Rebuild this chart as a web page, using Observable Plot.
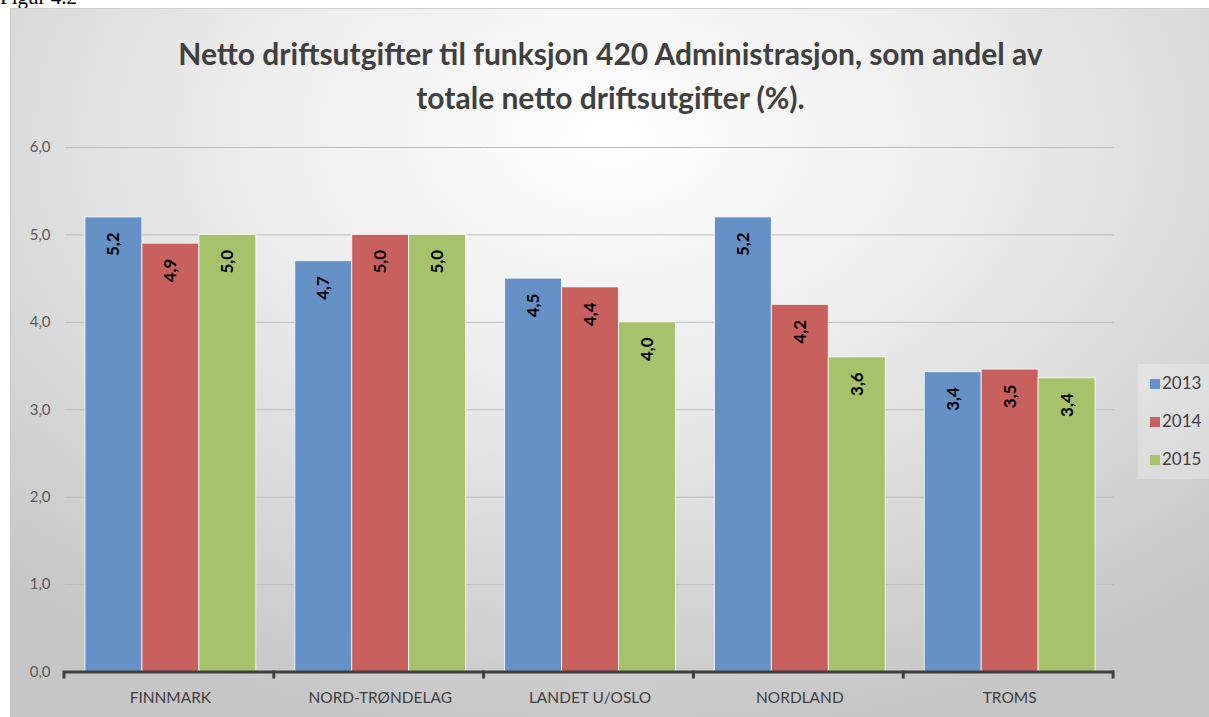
<!DOCTYPE html>
<html>
<head>
<meta charset="utf-8">
<script src="https://cdn.jsdelivr.net/npm/d3@7"></script>
<script src="https://cdn.jsdelivr.net/npm/@observablehq/plot@0.6"></script>
<style>
  html, body { margin: 0; padding: 0; background: #ffffff; width: 1209px; height: 717px; overflow: hidden; position: relative; }
  #fig { position: absolute; left: 0; top: -15px; font-family: "Liberation Serif", serif; font-size: 21px; color: #000; }
  #box { position: absolute; left: 10px; top: 8px; width: 1199px; height: 709px;
         background: radial-gradient(ellipse 75% 85% at 50% 18%, #ffffff 0%, #ededed 40%, #d6d6d6 75%, #c6c6c6 100%);
         border-top: 1px solid #d0d0d0; border-left: 1px solid #c8c8c8; box-sizing: border-box; }
  #title { position: absolute; left: 0; top: 22px; width: 1199px; text-align: center; font-family: Lato, sans-serif; font-weight: bold; font-size: 30px; line-height: 44px; color: #404040; }
  #chart { position: absolute; left: 0; top: 122px; }
  #legend { position: absolute; left: 1127px; top: 355px; width: 72px; height: 115px; background: rgba(255,255,255,0.25); font-family: Lato, sans-serif; font-size: 17px; color: #404040; }
  #legend .item { position: absolute; left: 12px; height: 20px; line-height: 20px; }
  #legend .sw { display: inline-block; width: 10px; height: 10px; margin-right: 2px; vertical-align: 0px; }
</style>
</head>
<body>
<div id="fig">Figur 4.2</div>
<div id="box">
  <div id="title">Netto driftsutgifter til funksjon 420 Administrasjon, som andel av<br>totale netto driftsutgifter (%).</div>
  <div id="chart"></div>
  <div id="legend"></div>
</div>
<script>
const categories = ["FINNMARK", "NORD-TRØNDELAG", "LANDET U/OSLO", "NORDLAND", "TROMS"];
const years = ["2013", "2014", "2015"];
const values2013 = [5.2, 4.7, 4.5, 5.2, 3.43];
const values2014 = [4.9, 5.0, 4.4, 4.2, 3.46];
const values2015 = [5.0, 5.0, 4.0, 3.6, 3.36];
const yTicks = [0, 1, 2, 3, 4, 5, 6];
const colors = ["#6591c6", "#c8605e", "#a6c26b"];

const seriesByYear = [values2013, values2014, values2015];
const data = [];
categories.forEach((c, i) => years.forEach((y, j) => data.push({cat: c, year: y, value: seriesByYear[j][i]})));
const fmt = d => d.toFixed(1).replace(".", ",");

const chart = Plot.plot({
  width: 1199,
  height: 587,
  marginTop: 16,
  marginBottom: 46,
  marginLeft: 53,
  marginRight: 94,
  style: {background: "transparent", fontFamily: "Lato, sans-serif", overflow: "visible"},
  fx: {domain: categories, padding: 0, label: null},
  x: {domain: years, paddingInner: 0, paddingOuter: 0.33, axis: null},
  y: {domain: [0, 6], label: null, axis: null},
  color: {domain: years, range: colors},
  marks: [
    Plot.ruleY(yTicks.filter(d => d > 0), {stroke: "#bdbdbd", strokeWidth: 1}),
    Plot.barY(data, {fx: "cat", x: "year", y: "value", fill: "year", stroke: "#ffffff", strokeOpacity: 0.8, strokeWidth: 1}),
    Plot.text(data, {fx: "cat", x: "year", y: "value", text: d => fmt(d.value), rotate: -90, textAnchor: "end", dy: 15, fontWeight: "bold", fontSize: 17, fill: "#000000"}),
    Plot.ruleY([0], {stroke: "#404040", strokeWidth: 3}),
    Plot.axisFx({anchor: "bottom", tickSize: 0, tickPadding: 20, fontSize: 15.5, color: "#404040", label: null}),
    Plot.axisY(yTicks, {anchor: "left", tickSize: 0, tickPadding: 15, fontSize: 15, color: "#595959", tickFormat: fmt, label: null, facetAnchor: "left"})
  ]
});
document.getElementById("chart").appendChild(chart);

// tick marks at category boundaries, derived from the fx and y scales
const fxs = chart.scale("fx");
const ys = chart.scale("y");
const y0 = ys.apply ? ys.apply(0) : 541;
const start = fxs.range[0];
const step = fxs.step;
const svg = d3.select(chart);
const g = svg.append("g").attr("stroke", "#404040").attr("stroke-width", 3);
for (let i = 0; i <= categories.length; i++) {
  const xb = start + i * step;
  g.append("line").attr("x1", xb).attr("x2", xb).attr("y1", y0 - 1).attr("y2", y0 + 7);
}

// legend
const legend = d3.select("#legend");
years.forEach((y, i) => {
  const it = legend.append("div").attr("class", "item").style("top", (9 + i * 38) + "px");
  it.append("span").attr("class", "sw").style("background", colors[i]);
  it.append("span").text(y);
});
</script>
</body>
</html>
